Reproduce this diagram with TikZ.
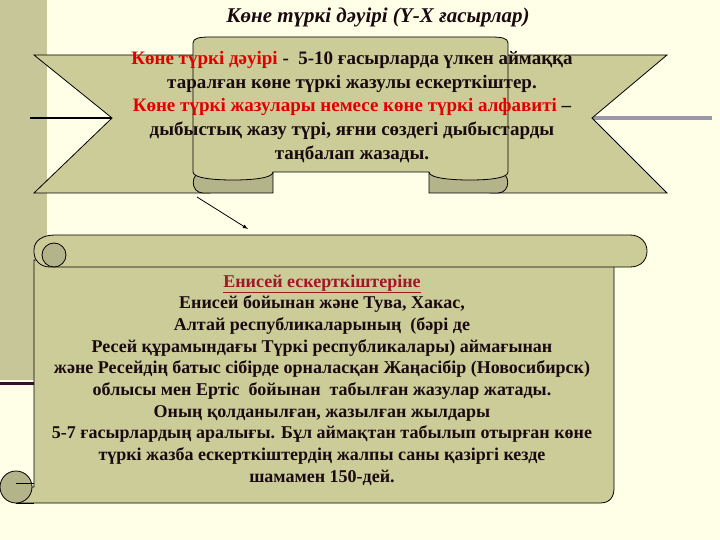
\documentclass[tikz,border=0pt]{standalone}
\usepackage{fontspec}
\setmainfont{Liberation Serif}
\begin{document}
\begin{tikzpicture}[x=1pt,y=-1pt,
  shp/.style={draw=black,line width=0.8pt,fill=olive1},
  dark/.style={draw=black,line width=0.8pt,fill=olive2},
  txt/.style={align=center,font=\bfseries\fontsize{19}{23.7}\selectfont,text=textc,inner sep=0pt},
]
\definecolor{bg}{HTML}{FFFFE8}
\definecolor{olive1}{HTML}{CCCC99}
\definecolor{olive2}{HTML}{B4B48A}
\definecolor{barc}{HTML}{C6C698}
\definecolor{textc}{HTML}{1A0A10}
\definecolor{redc}{HTML}{E00000}
\definecolor{dred}{HTML}{A01828}
\definecolor{purp}{HTML}{3A1030}
\definecolor{grayl}{HTML}{9898A8}
\useasboundingbox[fill=bg] (0,0) rectangle (720,540);
% left bar and lines
\fill[barc] (0,0) rectangle (47,380);
\draw[purp,line width=3pt] (0,383) -- (34,383);
\draw[black,line width=1.5pt] (30,118) -- (112,118);
\draw[grayl,line width=4pt] (590,118) -- (712,118);
% title
\node[font=\bfseries\itshape\fontsize{21}{24}\selectfont,text=textc] (title) at (378,17) {Көне түркі дәуірі (Ү-Х ғасырлар)};
% banner tails
\draw[shp] (34,55) -- (210,55) -- (210,193) -- (34,193) -- (112,118) -- cycle;
\draw[shp] (667,55) -- (490,55) -- (490,193) -- (667,193) -- (592,118) -- cycle;
% curls
\draw[dark] (273,172) -- (273,193) -- (203,193) .. controls (190,193) and (190,172) .. (203,172) -- cycle;
\draw[dark] (429,172) -- (498,172) .. controls (511,172) and (511,193) .. (498,193) -- (429,193) -- cycle;
% center panel
\draw[shp] (193,172) -- (193,43) .. controls (193,38) and (200,37) .. (210,37) -- (491,37) .. controls (501,37) and (508,38) .. (508,43) -- (508,172)
  .. controls (508,178) and (490,180) .. (470,180) .. controls (450,180) and (429,178) .. (429,172)
  -- (273,172) .. controls (273,178) and (253,180) .. (233,180) .. controls (213,180) and (193,178) .. (193,172);
\node[txt] (btext) at (352,107) {\textcolor{redc}{Көне түркі дәуірі} -\ \ 5-10 ғасырларда үлкен аймаққа\\
таралған көне түркі жазулы ескерткіштер.\\
\textcolor{redc}{Көне түркі жазулары немесе көне түркі алфавиті} –\\
дыбыстық жазу түрі, яғни сөздегі дыбыстарды\\
таңбалап жазады.};
% arrow
\coordinate (a1) at (197,197);
\coordinate (a2) at (248,229);
\draw[black,line width=0.8pt,-latex] (a1) -- (a2);
% scroll
\draw[shp] (34,260) -- (34,487) -- (16,487) -- (16,503) -- (600,503) .. controls (610,503) and (614,497) .. (614,488) -- (614,260) -- cycle;
\draw[shp] (55,235) -- (630,235) .. controls (641,235) and (647,243) .. (647,251) .. controls (647,260) and (641,267) .. (630,267) -- (50,267)
  .. controls (40,267) and (34,260) .. (34,252) -- (34,250) .. controls (34,241) and (42,235) .. (55,235) -- cycle;
\draw[dark] (54,255) circle[radius=12];
\draw[dark] (16,487) circle[radius=16];
\draw[black,line width=0.8pt] (16,503) -- (34,503);
\draw[black,line width=0.8pt] (16,483) -- (34,483);
\node[txt,font=\bfseries\fontsize{18}{21.7}\selectfont] (stext) at (322,380) {\textcolor{dred}{\underline{Енисей ескерткіштеріне}}\\
Енисей бойынан және Тува, Хакас,\\
Алтай республикаларының\ \ (бәрі де\\
Ресей құрамындағы Түркі республикалары) аймағынан\\
және Ресейдің батыс сібірде орналасқан Жаңасібір (Новосибирск)\\
облысы мен Ертіс\ \ бойынан\ \ табылған жазулар жатады.\\
Оның қолданылған, жазылған жылдары\\
5-7 ғасырлардың аралығы. Бұл аймақтан табылып отырған көне\\
түркі жазба ескерткіштердің жалпы саны қазіргі кезде\\
шамамен 150-дей.};
\end{tikzpicture}
\end{document}
